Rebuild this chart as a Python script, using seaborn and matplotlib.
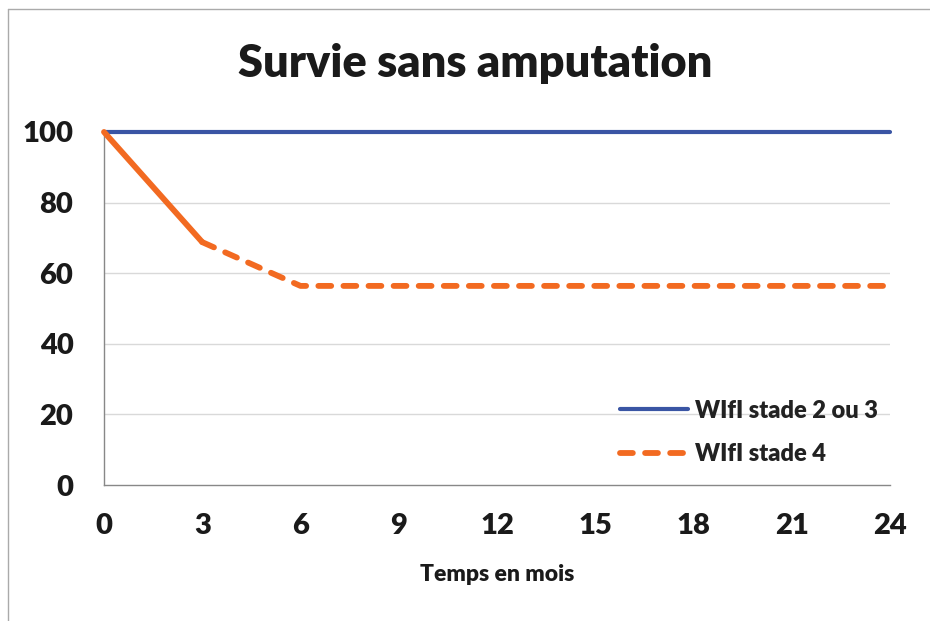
import pandas as pd
import seaborn as sns
import matplotlib.pyplot as plt
from matplotlib.lines import Line2D

# Data
blue_months = [0, 24]
blue_values = [100, 100]
orange_months = [0, 3, 6, 24]
orange_values = [100, 68.8, 56.4, 56.4]
x_ticks = [0, 3, 6, 9, 12, 15, 18, 21, 24]
y_ticks = [0, 20, 40, 60, 80, 100]
label_blue = 'WIfI stade 2 ou 3'
label_orange = 'WIfI stade 4'

blue_color = '#3A55A4'
orange_color = '#F26A21'
dash_style = (0, (2.2, 2.1))

sns.set_style("white")
plt.rcParams['font.family'] = ['Lato', 'DejaVu Sans']

fig = plt.figure(figsize=(9.3, 6.21), dpi=100)
ax = fig.add_axes([104 / 930, 1 - 485 / 621, (890 - 104) / 930, (485 - 132) / 621])

blue = pd.DataFrame({'mois': blue_months, 'survie': blue_values})
orange_solid = pd.DataFrame({'mois': orange_months[:2], 'survie': orange_values[:2]})
orange_dash = pd.DataFrame({'mois': orange_months[1:], 'survie': orange_values[1:]})

for y in y_ticks[1:]:
    ax.axhline(y, color='#D9D9D9', linewidth=1, zorder=0)

sns.lineplot(data=blue, x='mois', y='survie', ax=ax, color=blue_color, linewidth=3.0,
             zorder=3, clip_on=False)
sns.lineplot(data=orange_solid, x='mois', y='survie', ax=ax, color=orange_color,
             linewidth=4.2, zorder=4, clip_on=False)
ax.lines[-1].set_solid_capstyle('round')
sns.lineplot(data=orange_dash, x='mois', y='survie', ax=ax, color=orange_color,
             linewidth=4.2, zorder=4)
ax.lines[-1].set_linestyle(dash_style)
ax.lines[-1].set_dash_capstyle('round')

ax.set_xlim(0, 24)
ax.set_ylim(0, 100)
ax.set_xticks(x_ticks)
ax.set_yticks(y_ticks)
ax.tick_params(axis='both', which='both', direction='out', length=7, width=1,
               color='#888888', labelsize=21)
ax.tick_params(axis='x', pad=13)
ax.tick_params(axis='y', pad=15)
for lab in ax.get_xticklabels() + ax.get_yticklabels():
    lab.set_fontweight('heavy')
    lab.set_color('#1a1a1a')

for side in ['top', 'right']:
    ax.spines[side].set_visible(False)
for side in ['left', 'bottom']:
    ax.spines[side].set_color('#888888')
    ax.spines[side].set_linewidth(1)

ax.set_xlabel('Temps en mois', fontsize=16.5, fontweight='heavy', color='#1a1a1a',
              labelpad=18)
ax.set_ylabel('')
fig.text(475 / 930, 1 - 64 / 621, 'Survie sans amputation', ha='center', va='center',
         fontsize=32.5, fontweight='heavy', color='#1a1a1a')

handles = [Line2D([], [], color=blue_color, linewidth=3.0),
           Line2D([], [], color=orange_color, linewidth=4.2, linestyle=dash_style,
                  dash_capstyle='round')]
leg = ax.legend(handles, [label_blue, label_orange], loc='center right',
                bbox_to_anchor=(0.997, 0.149), frameon=False, handlelength=2.9,
                labelspacing=0.92, handletextpad=0.3, borderaxespad=0,
                prop={'family': 'Lato', 'weight': 'heavy', 'size': 17})
for t in leg.get_texts():
    t.set_color('#222222')

# outer frame (top and left edges only visible)
fig.add_artist(Line2D([8 / 930, 8 / 930], [0, 1 - 9 / 621], transform=fig.transFigure,
                      color='#AAAAAA', linewidth=1))
fig.add_artist(Line2D([8 / 930, 1], [1 - 9 / 621, 1 - 9 / 621], transform=fig.transFigure,
                      color='#AAAAAA', linewidth=1))

fig.savefig('out.png', dpi=100)
